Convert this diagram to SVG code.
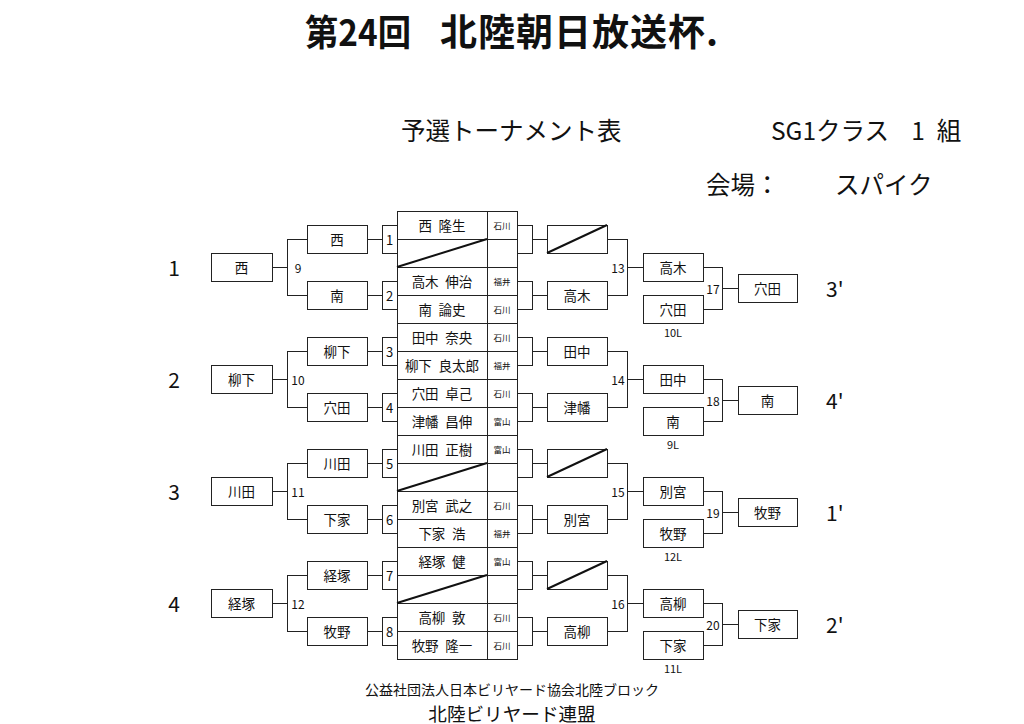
<svg xmlns="http://www.w3.org/2000/svg" width="1024" height="724" viewBox="0 0 1024 724">
<style>
text{font-family:"Noto Sans CJK JP","Noto Sans",sans-serif;fill:#111;dominant-baseline:central}
.box{fill:#fff;stroke:#222;stroke-width:1;shape-rendering:crispEdges}
.ln{fill:none;stroke:#222;stroke-width:1;shape-rendering:crispEdges}
.sl{stroke:#111;stroke-width:2}
.nm{font-size:13.5px;text-anchor:middle}
.pf{font-size:8.5px;text-anchor:middle}
.bx{font-size:13.5px;text-anchor:middle}
.no{font-size:13px;text-anchor:middle}
.rd{font-size:12px;text-anchor:middle}
.gl{font-size:21px;text-anchor:middle}
.rk{font-size:21px}
.lo{font-size:11px;text-anchor:middle}
</style>
<rect width="1024" height="724" fill="#fff"/>
<g id="header">
<text x="305" y="30" font-size="36" font-weight="bold" textLength="106" lengthAdjust="spacingAndGlyphs">第24回</text>
<text x="440" y="30" font-size="37" font-weight="bold" textLength="278" lengthAdjust="spacing">北陸朝日放送杯.</text>
<text x="401" y="129" font-size="24.5">予選トーナメント表</text>
<text x="771" y="129" font-size="24.5">SG1クラス</text>
<text x="918" y="129" font-size="24.5" text-anchor="middle">1</text>
<text x="949" y="129" font-size="24.5" text-anchor="middle">組</text>
<text x="706" y="183" font-size="24.5">会場：</text>
<text x="835" y="183" font-size="24.5">スパイク</text>
</g>
<g id="connectors">
<path class="ln" d="M272 267H287M287 239V295M287 239H307M287 295H307M367 239H382M367 295H382M532 239H547M532 295H547M607 239H627V295H607M627 267H643M703 267H722V309H703M722 288H738"/>
<path class="ln" d="M272 379H287M287 351V407M287 351H307M287 407H307M367 351H382M367 407H382M532 351H547M532 407H547M607 351H627V407H607M627 379H643M703 379H722V421H703M722 400H738"/>
<path class="ln" d="M272 491H287M287 463V519M287 463H307M287 519H307M367 463H382M367 519H382M532 463H547M532 519H547M607 463H627V519H607M627 491H643M703 491H722V533H703M722 512H738"/>
<path class="ln" d="M272 603H287M287 575V631M287 575H307M287 631H307M367 575H382M367 631H382M532 575H547M532 631H547M607 575H627V631H607M627 603H643M703 603H722V645H703M722 624H738"/>
</g>
<g id="table">
<rect class="box" x="397" y="211" width="120" height="448"/>
<path class="ln" d="M487 211V659M397 239H517M397 267H517M397 295H517M397 323H517M397 351H517M397 379H517M397 407H517M397 435H517M397 463H517M397 491H517M397 519H517M397 547H517M397 575H517M397 603H517M397 631H517"/>
<line class="sl" x1="397" y1="267" x2="487" y2="239"/>
<line class="sl" x1="397" y1="491" x2="487" y2="463"/>
<line class="sl" x1="397" y1="603" x2="487" y2="575"/>
<text class="nm" x="442" y="225">西&#8194;隆生</text><text class="pf" x="502" y="225">石川</text>
<text class="nm" x="442" y="281">高木&#8194;伸治</text><text class="pf" x="502" y="281">福井</text>
<text class="nm" x="442" y="309">南&#8194;論史</text><text class="pf" x="502" y="309">石川</text>
<text class="nm" x="442" y="337">田中&#8194;奈央</text><text class="pf" x="502" y="337">石川</text>
<text class="nm" x="442" y="365">柳下&#8194;良太郎</text><text class="pf" x="502" y="365">福井</text>
<text class="nm" x="442" y="393">穴田&#8194;卓己</text><text class="pf" x="502" y="393">石川</text>
<text class="nm" x="442" y="421">津幡&#8194;昌伸</text><text class="pf" x="502" y="421">富山</text>
<text class="nm" x="442" y="449">川田&#8194;正樹</text><text class="pf" x="502" y="449">富山</text>
<text class="nm" x="442" y="505">別宮&#8194;武之</text><text class="pf" x="502" y="505">石川</text>
<text class="nm" x="442" y="533">下家&#8194;浩</text><text class="pf" x="502" y="533">福井</text>
<text class="nm" x="442" y="561">経塚&#8194;健</text><text class="pf" x="502" y="561">富山</text>
<text class="nm" x="442" y="617">高柳&#8194;敦</text><text class="pf" x="502" y="617">石川</text>
<text class="nm" x="442" y="645">牧野&#8194;隆一</text><text class="pf" x="502" y="645">石川</text>
</g>
<g id="block1">
<text class="gl" x="174" y="267">1</text>
<g id="L9"><rect class="box" x="211" y="253" width="61" height="28"/><text class="bx" x="241.5" y="267">西</text></g>
<text class="rd" x="298" y="267">9</text>
<g id="m1a"><rect class="box" x="307" y="225" width="60" height="28"/><text class="bx" x="337" y="239">西</text></g>
<g id="m2a"><rect class="box" x="307" y="281" width="60" height="28"/><text class="bx" x="337" y="295">南</text></g>
<g id="n1"><rect class="box" x="382" y="225" width="15" height="28"/><text class="no" x="389.5" y="239">1</text></g>
<g id="n2"><rect class="box" x="382" y="281" width="15" height="28"/><text class="no" x="389.5" y="295">2</text></g>
<rect class="box" x="517" y="225" width="15" height="28"/>
<rect class="box" x="517" y="281" width="15" height="28"/>
<g id="r1"><rect class="box" x="547" y="225" width="60" height="28"/><line class="sl" x1="547" y1="253" x2="607" y2="225"/></g>
<g id="r2"><rect class="box" x="547" y="281" width="60" height="28"/><text class="bx" x="577" y="295">高木</text></g>
<text class="rd" x="618" y="267">13</text>
<g id="r13"><rect class="box" x="643" y="253" width="60" height="28"/><text class="bx" x="673" y="267">高木</text></g>
<g id="l10"><rect class="box" x="643" y="295" width="60" height="28"/><text class="bx" x="673" y="309">穴田</text><text class="lo" x="673" y="332">10L</text></g>
<text class="rd" x="713" y="288">17</text>
<g id="r17"><rect class="box" x="738" y="274" width="59" height="28"/><text class="bx" x="767.5" y="288">穴田</text></g>
<text class="rk" x="826" y="288">3'</text>
</g>
<g id="block2">
<text class="gl" x="174" y="379">2</text>
<g id="L10"><rect class="box" x="211" y="365" width="61" height="28"/><text class="bx" x="241.5" y="379">柳下</text></g>
<text class="rd" x="298" y="379">10</text>
<g id="m3a"><rect class="box" x="307" y="337" width="60" height="28"/><text class="bx" x="337" y="351">柳下</text></g>
<g id="m4a"><rect class="box" x="307" y="393" width="60" height="28"/><text class="bx" x="337" y="407">穴田</text></g>
<g id="n3"><rect class="box" x="382" y="337" width="15" height="28"/><text class="no" x="389.5" y="351">3</text></g>
<g id="n4"><rect class="box" x="382" y="393" width="15" height="28"/><text class="no" x="389.5" y="407">4</text></g>
<rect class="box" x="517" y="337" width="15" height="28"/>
<rect class="box" x="517" y="393" width="15" height="28"/>
<g id="r3"><rect class="box" x="547" y="337" width="60" height="28"/><text class="bx" x="577" y="351">田中</text></g>
<g id="r4"><rect class="box" x="547" y="393" width="60" height="28"/><text class="bx" x="577" y="407">津幡</text></g>
<text class="rd" x="618" y="379">14</text>
<g id="r14"><rect class="box" x="643" y="365" width="60" height="28"/><text class="bx" x="673" y="379">田中</text></g>
<g id="l9"><rect class="box" x="643" y="407" width="60" height="28"/><text class="bx" x="673" y="421">南</text><text class="lo" x="673" y="444">9L</text></g>
<text class="rd" x="713" y="400">18</text>
<g id="r18"><rect class="box" x="738" y="386" width="59" height="28"/><text class="bx" x="767.5" y="400">南</text></g>
<text class="rk" x="826" y="400">4'</text>
</g>
<g id="block3">
<text class="gl" x="174" y="491">3</text>
<g id="L11"><rect class="box" x="211" y="477" width="61" height="28"/><text class="bx" x="241.5" y="491">川田</text></g>
<text class="rd" x="298" y="491">11</text>
<g id="m5a"><rect class="box" x="307" y="449" width="60" height="28"/><text class="bx" x="337" y="463">川田</text></g>
<g id="m6a"><rect class="box" x="307" y="505" width="60" height="28"/><text class="bx" x="337" y="519">下家</text></g>
<g id="n5"><rect class="box" x="382" y="449" width="15" height="28"/><text class="no" x="389.5" y="463">5</text></g>
<g id="n6"><rect class="box" x="382" y="505" width="15" height="28"/><text class="no" x="389.5" y="519">6</text></g>
<rect class="box" x="517" y="449" width="15" height="28"/>
<rect class="box" x="517" y="505" width="15" height="28"/>
<g id="r5"><rect class="box" x="547" y="449" width="60" height="28"/><line class="sl" x1="547" y1="477" x2="607" y2="449"/></g>
<g id="r6"><rect class="box" x="547" y="505" width="60" height="28"/><text class="bx" x="577" y="519">別宮</text></g>
<text class="rd" x="618" y="491">15</text>
<g id="r15"><rect class="box" x="643" y="477" width="60" height="28"/><text class="bx" x="673" y="491">別宮</text></g>
<g id="l12"><rect class="box" x="643" y="519" width="60" height="28"/><text class="bx" x="673" y="533">牧野</text><text class="lo" x="673" y="556">12L</text></g>
<text class="rd" x="713" y="512">19</text>
<g id="r19"><rect class="box" x="738" y="498" width="59" height="28"/><text class="bx" x="767.5" y="512">牧野</text></g>
<text class="rk" x="826" y="512">1'</text>
</g>
<g id="block4">
<text class="gl" x="174" y="603">4</text>
<g id="L12"><rect class="box" x="211" y="589" width="61" height="28"/><text class="bx" x="241.5" y="603">経塚</text></g>
<text class="rd" x="298" y="603">12</text>
<g id="m7a"><rect class="box" x="307" y="561" width="60" height="28"/><text class="bx" x="337" y="575">経塚</text></g>
<g id="m8a"><rect class="box" x="307" y="617" width="60" height="28"/><text class="bx" x="337" y="631">牧野</text></g>
<g id="n7"><rect class="box" x="382" y="561" width="15" height="28"/><text class="no" x="389.5" y="575">7</text></g>
<g id="n8"><rect class="box" x="382" y="617" width="15" height="28"/><text class="no" x="389.5" y="631">8</text></g>
<rect class="box" x="517" y="561" width="15" height="28"/>
<rect class="box" x="517" y="617" width="15" height="28"/>
<g id="r7"><rect class="box" x="547" y="561" width="60" height="28"/><line class="sl" x1="547" y1="589" x2="607" y2="561"/></g>
<g id="r8"><rect class="box" x="547" y="617" width="60" height="28"/><text class="bx" x="577" y="631">高柳</text></g>
<text class="rd" x="618" y="603">16</text>
<g id="r16"><rect class="box" x="643" y="589" width="60" height="28"/><text class="bx" x="673" y="603">高柳</text></g>
<g id="l11"><rect class="box" x="643" y="631" width="60" height="28"/><text class="bx" x="673" y="645">下家</text><text class="lo" x="673" y="668">11L</text></g>
<text class="rd" x="713" y="624">20</text>
<g id="r20"><rect class="box" x="738" y="610" width="59" height="28"/><text class="bx" x="767.5" y="624">下家</text></g>
<text class="rk" x="826" y="624">2'</text>
</g>
<g id="footer">
<text x="512" y="689" font-size="14" text-anchor="middle">公益社団法人日本ビリヤード協会北陸ブロック</text>
<text x="512" y="712.5" font-size="18.6" text-anchor="middle">北陸ビリヤード連盟</text>
</g>
</svg>
